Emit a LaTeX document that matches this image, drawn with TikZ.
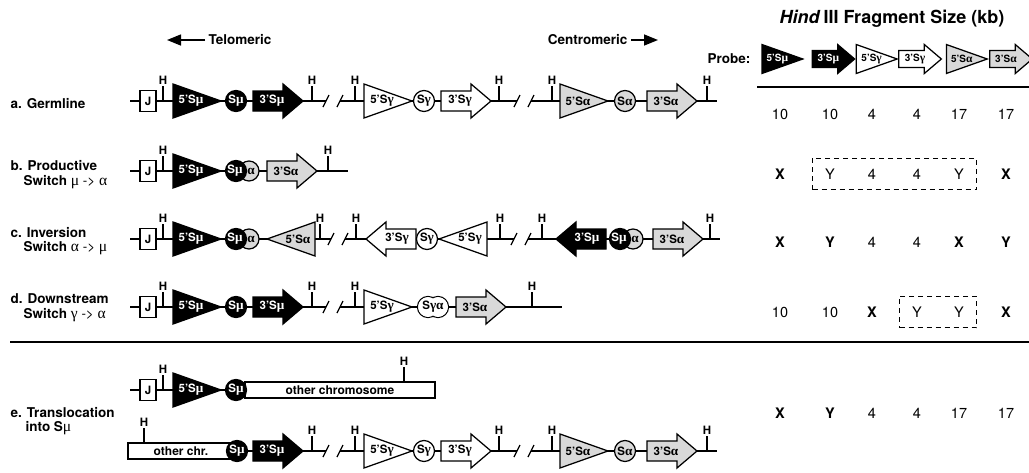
\documentclass[tikz,border=0pt]{standalone}
\usepackage{fontspec}
\setmainfont{TeX Gyre Heros}
\newfontfamily\grk[Scale=1.15]{Liberation Serif}
\usetikzlibrary{arrows.meta}
\usetikzlibrary{fit}

\newcommand{\gmu}{{\grk μ}}
\newcommand{\gal}{{\grk α}}
\newcommand{\gga}{{\grk γ}}
\newcommand{\lblfont}{\bfseries\fontsize{11.5}{12}\selectfont}

\tikzset{
  mu/.style={draw, fill=black, text=white},
  ga/.style={draw, fill=white, text=black},
  al/.style={draw, fill=gray!30, text=black},
  lab/.style={draw=none, fill=none, inner sep=0pt, font=\lblfont},
  sw/.style={circle, minimum size=21pt, inner sep=0pt, font=\lblfont},
  hlab/.style={inner sep=0pt, font=\bfseries\fontsize{11.5}{12}\selectfont},
  rowlab/.style={anchor=west, inner sep=0pt, font=\bfseries\fontsize{13.5}{14}\selectfont},
  val/.style={inner sep=0pt, font=\fontsize{14.5}{15}\selectfont},
  chrom/.style={draw, fill=white, minimum height=16pt, inner sep=0pt, font=\bfseries\fontsize{12}{12}\selectfont},
  jseg/.style={draw, fill=white, minimum width=16pt, minimum height=21pt, inner sep=0pt, font=\bfseries\fontsize{11.5}{12}\selectfont},
  dbox/.style={draw, dashed, line width=1pt, dash pattern=on 5pt off 4pt, inner xsep=12pt, inner ysep=10pt},
}

% 5' region, left edge at #1
\newcommand{\fivetri}[4]{%
  \draw[#3] (#1,#2-17) -- (#1+48,#2) -- (#1,#2+17) -- cycle;
  \node[#3, lab] at (#1+18,#2) {#4};}
% 5' region turned round, tip at #1
\newcommand{\fivetrirev}[4]{%
  \draw[#3] (#1,#2) -- (#1+48,#2-17) -- (#1+48,#2+17) -- cycle;
  \node[#3, lab] at (#1+31,#2) {#4};}
% 3' region
\newcommand{\threearr}[4]{%
  \draw[#3] (#1,#2-10) -- (#1+30,#2-10) -- (#1+30,#2-17) -- (#1+50,#2)
    -- (#1+30,#2+17) -- (#1+30,#2+10) -- (#1,#2+10) -- cycle;
  \node[#3, lab] at (#1+19,#2) {#4};}
\newcommand{\threearrrev}[4]{%
  \draw[#3] (#1,#2) -- (#1+20,#2-17) -- (#1+20,#2-10) -- (#1+50,#2-10)
    -- (#1+50,#2+10) -- (#1+20,#2+10) -- (#1+20,#2+17) -- cycle;
  \node[#3, lab] at (#1+31,#2) {#4};}
% switch region
\newcommand{\swreg}[4]{\node[#3, sw] at (#1,#2) {#4};}
% hybrid S mu / S alpha
\newcommand{\swmix}[4]{%
  \draw[#4] (#1+13,#2) circle (10);
  \draw[#3] (#1,#2) circle (10.5);
  \node[#3, lab] at (#1-1,#2) {S\gmu};
  \node[#4, lab] at (#1+15,#2) {\gal};}
% HindIII site
\newcommand{\hsite}[2]{%
  \draw (#1,#2) -- (#1,#2-15) node[hlab, anchor=south, yshift=1pt] {H};}
% break in the line
\newcommand{\brk}[2]{\draw (#1-10,#2+6) -- (#1-4,#2-6) (#1+4,#2+6) -- (#1+10,#2-6);}
\newcommand{\jseg}[1]{\node[jseg] at (148,#1) {J};}

\begin{document}
\begin{tikzpicture}[x=1pt, y=-1pt, line width=1.25pt]
\useasboundingbox (0,0) rectangle (1029,472);

% orientation
\draw[line width=1.5pt, -{Triangle[length=14pt,width=11pt]}] (205,40) -- (167,40);
\node[rowlab] (telo) at (208,40) {Telomeric};
\node[rowlab, anchor=east] (centro) at (628,40) {Centromeric};
\draw[line width=1.5pt, -{Triangle[length=14pt,width=11pt]}] (631,40) -- (658,40);

% table head
\node[font=\bfseries\fontsize{18}{18}\selectfont] (title) at (892,19) {\textit{Hind}\,III Fragment Size (kb)};
\node[rowlab, anchor=east] (probe) at (751,59) {Probe:};
\begin{scope}[shift={(762,59)}, scale=0.85]
  \renewcommand{\lblfont}{\bfseries\fontsize{10}{10}\selectfont}
  \fivetri{0}{0}{mu}{5'S\gmu}
  \threearr{59}{0}{mu}{3'S\gmu}
  \fivetri{111}{0}{ga}{5'S\gga}
  \threearr{161}{0}{ga}{3'S\gga}
  \fivetri{217}{0}{al}{5'S\gal}
  \threearr{268}{0}{al}{3'S\gal}
\end{scope}
\draw[line width=1.6pt] (757,87) -- (1029,87);

% row labels
\node[rowlab] (la) at (10,104) {a. Germline};
\node[rowlab] (lb) at (10,166) {b. Productive};
\node[rowlab] (lb2) at (23,182) {Switch {\mdseries\gmu\ -> \gal}};
\node[rowlab] (lc) at (10,233) {c. Inversion};
\node[rowlab] (lc2) at (23,248) {Switch {\mdseries\gal\ -> \gmu}};
\node[rowlab] (ld) at (10,299) {d. Downstream};
\node[rowlab] (ld2) at (23,315) {Switch {\mdseries\gga\ -> \gal}};
\node[rowlab] (le) at (10,413) {e. Translocation};
\node[rowlab] (le2) at (25,428) {into S{\mdseries\gmu}};

% a. germline
\draw (130,101) -- (326,101) (340,101) -- (517,101) (531,101) -- (717,101);
\brk{333}{101} \brk{524}{101}
\jseg{101}
\hsite{163}{101}
\fivetri{173}{101}{mu}{5'S\gmu}
\swreg{236}{101}{mu}{S\gmu}
\threearr{253}{101}{mu}{3'S\gmu}
\hsite{312}{101}
\hsite{355}{101}
\fivetri{364}{101}{ga}{5'S\gga}
\swreg{424}{101}{ga}{S\gga}
\threearr{441}{101}{ga}{3'S\gga}
\hsite{499}{101}
\hsite{552}{101}
\fivetri{560}{101}{al}{5'S\gal}
\swreg{625}{101}{al}{S\gal}
\threearr{647}{101}{al}{3'S\gal}
\hsite{707}{101}

% b. productive switch
\draw (130,171) -- (348,171);
\jseg{171}
\hsite{163}{171}
\fivetri{173}{171}{mu}{5'S\gmu}
\swmix{236}{171}{mu}{al}
\threearr{267}{171}{al}{3'S\gal}
\hsite{328}{171}

% c. inversion
\draw (130,239) -- (331,239) (345,239) -- (514,239) (528,239) -- (720,239);
\brk{338}{239} \brk{521}{239}
\jseg{239}
\hsite{163}{239}
\fivetri{173}{239}{mu}{5'S\gmu}
\swmix{236}{239}{mu}{al}
\fivetrirev{267}{239}{al}{5'S\gal}
\hsite{320}{239}
\hsite{356}{239}
\threearrrev{366}{239}{ga}{3'S\gga}
\swreg{427}{239}{ga}{S\gga}
\fivetrirev{439}{239}{ga}{5'S\gga}
\hsite{500}{239}
\hsite{542}{239}
\threearrrev{556}{239}{mu}{3'S\gmu}
\swmix{620}{239}{mu}{al}
\threearr{653}{239}{al}{3'S\gal}
\hsite{710}{239}

% d. downstream switch
\draw (130,307) -- (326,307) (340,307) -- (562,307);
\brk{333}{307}
\jseg{307}
\hsite{163}{307}
\fivetri{173}{307}{mu}{5'S\gmu}
\swreg{236}{307}{mu}{S\gmu}
\threearr{253}{307}{mu}{3'S\gmu}
\hsite{312}{307}
\hsite{355}{307}
\fivetri{364}{307}{ga}{5'S\gga}
\draw (428,307) circle (10.5) (438,307) circle (10.5);
\fill[white] (428,307) circle (9.9) (438,307) circle (9.9);
\node[lab] (sga) at (433,307) {S\gga\gal};
\threearr{456}{307}{al}{3'S\gal}
\hsite{532}{307}

\draw[line width=1.6pt] (10,342) -- (1029,342);

% e. translocation
\draw (130,390) -- (245,390);
\jseg{390}
\hsite{163}{390}
\fivetri{173}{390}{mu}{5'S\gmu}
\node[chrom, minimum width=190pt] (other) at (340,390) {other chromosome};
\hsite{404}{382}
\swreg{236}{390}{mu}{S\gmu}

\draw (236,451) -- (326,451) (340,451) -- (517,451) (531,451) -- (717,451);
\node[chrom, minimum width=106pt] (otherchr) at (181,451) {other chr.};
\hsite{144}{443}
\brk{333}{451} \brk{524}{451}
\swreg{237}{451}{mu}{S\gmu}
\threearr{253}{451}{mu}{3'S\gmu}
\hsite{312}{451}
\hsite{355}{451}
\fivetri{364}{451}{ga}{5'S\gga}
\swreg{424}{451}{ga}{S\gga}
\threearr{441}{451}{ga}{3'S\gga}
\hsite{499}{451}
\hsite{552}{451}
\fivetri{560}{451}{al}{5'S\gal}
\swreg{625}{451}{al}{S\gal}
\threearr{647}{451}{al}{3'S\gal}
\hsite{707}{451}

% fragment sizes
\foreach \x/\v [count=\i] in {780/10, 830/10, 872/4, 917/4, 959/17, 1006/17}
  \node[val] (a\i) at (\x,114) {\v};
\foreach \x/\v [count=\i] in {780/\textbf{X}, 830/Y, 872/4, 917/4, 959/Y, 1006/\textbf{X}}
  \node[val] (b\i) at (\x,174) {\v};
\foreach \x/\v [count=\i] in {780/\textbf{X}, 830/\textbf{Y}, 872/4, 917/4, 959/\textbf{X}, 1006/\textbf{Y}}
  \node[val] (c\i) at (\x,242) {\v};
\foreach \x/\v [count=\i] in {780/10, 830/10, 872/\textbf{X}, 917/Y, 959/Y, 1006/\textbf{X}}
  \node[val] (d\i) at (\x,312) {\v};
\foreach \x/\v [count=\i] in {780/\textbf{X}, 830/\textbf{Y}, 872/4, 917/4, 959/17, 1006/17}
  \node[val] (e\i) at (\x,413) {\v};
\node[dbox, fit=(b2)(b5)] (boxb) {};
\node[dbox, fit=(d4)(d5)] (boxd) {};
\end{tikzpicture}
\end{document}
